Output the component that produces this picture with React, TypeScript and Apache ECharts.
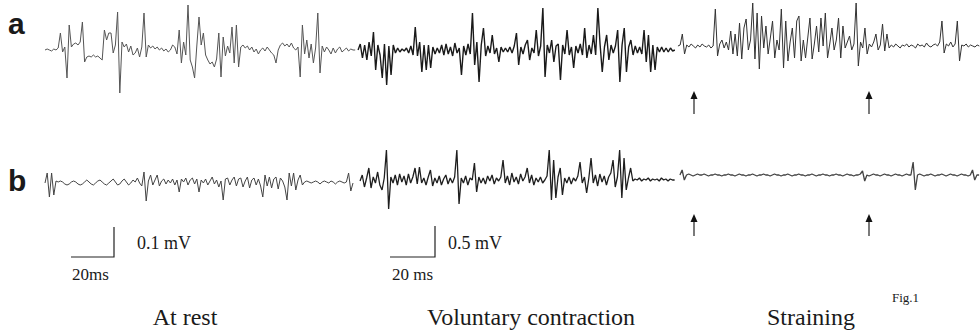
import React, { useEffect, useRef } from "react";
import * as echarts from "echarts";

// EMG traces, sampled every 1 ms; values are deflections in display units (a: upper trace, b: lower trace)
const SAMPLE_MS = 1;
const TOTAL_MS = 425;
const segStartA = [0, 142.3, 287.7];
const segStartB = [0, 143.2, 288.6];
const segLabels = ["At rest", "Voluntary contraction", "Straining"];

const restA = [0,1,0,-1,1,0,2,17,-2,3,
 -28,25,3,6,7,5,8,28,-12,-7,
 -6,-7,-5,-7,-6,-8,-10,20,10,17,
 17,-3,5,38,-43,8,3,6,-2,4,
 -5,-3,2,-7,3,37,-7,5,2,4,
 1,3,0,2,-1,1,-2,0,5,3,
 -4,20,-13,8,-5,45,-10,-17,-28,4,
 33,5,17,-5,-10,-14,-12,-17,-9,17,
 -27,13,-6,4,-3,23,-13,25,-17,3,
 5,2,4,0,3,-2,1,-4,0,2,
 -1,3,0,-3,-5,-13,0,5,7,4,
 6,3,7,2,0,3,-27,25,-4,10,
 -8,6,-13,2,37,-23,4,-2,3,0,
 -4,2,-3,1,3,-2,0,2,-1,1,
 0,0];

const volA = [0,6,-8,5,-10,8,-6,18,-20,5,
 -5,-28,6,-35,4,-25,5,-3,2,-2,
 1,-1,2,-3,4,-5,23,-6,8,-22,
 5,-20,5,-18,3,-4,2,-3,5,-5,
 6,-4,3,-6,7,-3,2,-25,4,-5,
 6,-4,37,-15,8,-32,5,22,-6,4,
 -3,15,-4,2,-12,3,-2,2,-2,3,
 -3,4,17,-15,3,-4,5,10,-10,2,
 -3,20,-6,4,42,-27,5,-3,10,-12,
 4,6,-30,5,-4,20,-5,3,-18,4,
 -3,6,-5,22,-8,5,-4,15,-5,42,
 6,-22,3,15,-10,5,-3,4,20,-32,
 5,22,-22,3,10,-5,4,-3,3,-4,
 20,-12,15,-22,5,-20,3,-2,3,-2,
 2,-2,2,-1,0];

const strA = [4,5,16,-4,
 5,3,6,4,2,5,3,6,4,3,5,2,4,
 41,-6,6,10,2,8,0,19,-4,16,
 -6,27,-9,22,31,0,10,47,-9,37,
 -19,34,2,24,-4,12,29,-8,10,0,
 41,-18,29,-11,8,22,-8,29,34,-11,
 10,-8,12,32,-9,6,24,-2,32,4,
 37,-8,6,22,0,10,32,-8,24,2,
 8,14,0,6,47,-16,8,2,22,-4,
 6,3,8,16,0,5,26,-1,16,2,
 5,3,6,4,2,5,4,6,3,5,4,2,6,4,5,3,7,4,3,5,6,4,8,
 29,-3,6,4,8,3,6,29,-11,5,
 4,6,3,5,4,3,5,4];

const restB = [0,10,-14,10,-12,2,
 1,2,1,-1,-2,-1,1,2,1,-1,
 -2,-1,1,3,1,-1,-2,0,2,3,
 1,-1,-2,0,2,4,1,-2,-1,2,
 4,1,-2,0,3,1,
 5,0,-3,11,-18,2,8,-2,3,8,
 -3,2,4,-1,3,0,4,-2,3,-9,
 4,1,5,-2,3,5,-1,4,-9,3,
 0,4,-2,2,6,-1,3,-4,2,-17,
 4,5,-2,3,6,-3,4,5,-4,2,
 6,-5,3,5,-2,4,-3,-14,8,-3,
 6,-5,4,6,-6,5,2,-4,-17,10,
 -3,10,-7,3,8,-2,
 1,2,1,0,1,2,1,-1,1,2,1,0,2,1,-1,1,2,1,0,1,
 10,-8,0];

const volB = [2,8,-4,5,15,-5,6,0,11,-2,
 -7,5,33,-26,6,0,8,-2,9,1,
 7,-2,9,0,6,15,-1,16,0,5,
 -2,6,13,-3,5,0,7,-2,4,8,
 -1,5,0,6,33,-21,5,0,7,-2,
 5,3,20,-9,6,0,5,-1,7,2,
 8,-1,5,2,6,23,0,7,-2,10,
 1,6,-1,9,2,6,15,0,8,-2,
 5,1,6,0,3,7,33,-17,23,-15,
 6,15,-12,5,0,6,-1,5,2,7,
 21,0,6,-10,5,25,0,8,-3,9,
 1,7,-2,6,10,23,-4,6,33,-15,
 25,-7,5,15,2,4,3,5,2,4,
 3,5,2,4,3,4,2,5,3,4,
 2,4,3,3];

const strB = [8,13,3,8,9,8,7,8,9,8,
 8,9,8,7,8,8,9,8,8,7,
 8,8,9,8,8,7,8,9,8,8,
 7,8,8,9,8,7,8,8,9,8,
 8,7,8,9,8,8,7,8,8,9,
 8,7,8,8,9,8,8,7,8,8,
 9,8,7,8,8,9,8,8,7,8,
 8,9,8,8,7,8,9,8,8,7,
 8,8,9,12,2,8,7,8,9,8,
 8,7,8,9,8,8,7,8,9,8,
 8,7,8,9,8,8,21,-7,8,9,
 8,7,8,8,9,8,7,8,8,9,
 8,7,8,9,8,8,7,8,9,8,
 8,7,8,13,3,8,8];

const scaleBars = [
  { amp: "0.1 mV", time: "20ms" },
  { amp: "0.5 mV", time: "20 ms" },
];

function pairs(values: number[], start: number) {
  return values.map((v, i) => [start + i * SAMPLE_MS, v]);
}

function seg(name: string, values: number[], start: number, idx: number, color: string, width: number) {
  return {
    type: "line",
    name,
    xAxisIndex: idx,
    yAxisIndex: idx,
    data: pairs(values, start),
    showSymbol: false,
    symbol: "none",
    lineStyle: { color, width },
    silent: true,
  };
}

function arrow(x: number, tip: number, tail: number) {
  return {
    type: "group",
    children: [
      { type: "line", shape: { x1: x, y1: tip + 6, x2: x, y2: tail }, style: { stroke: "#222", lineWidth: 1.2 } },
      { type: "polygon", shape: { points: [[x - 3.5, tip + 8], [x, tip], [x + 3.5, tip + 8]] }, style: { fill: "#111" } },
    ],
  };
}

export default function App() {
  const ref = useRef<HTMLDivElement>(null);
  useEffect(() => {
    document.body.style.margin = "0";
    const chart = echarts.init(ref.current!, null, { renderer: "svg" });
    const serif = "'Liberation Serif', 'DejaVu Serif', serif";
    const txt = (text: string, x: number, y: number, size: number, align = "left", weight = "normal", fam = serif) => ({
      type: "text",
      style: {
        text, x, y, fill: "#1a1a1a",
        font: `${weight} ${size}px ${fam}`,
        textAlign: align, textVerticalAlign: "middle",
      },
    });
    chart.setOption({
      animation: false,
      backgroundColor: "#fff",
      grid: [
        { left: 45, right: 0, top: 0, height: 100 },
        { left: 45, right: 0, top: 133, height: 100 },
      ],
      xAxis: [0, 1].map((g) => ({ type: "value", gridIndex: g, min: 0, max: TOTAL_MS, show: false })),
      yAxis: [0, 1].map((g) => ({ type: "value", gridIndex: g, min: -50, max: 50, show: false })),
      series: [
        seg("a " + segLabels[0], restA, segStartA[0], 0, "#555", 1),
        seg("a " + segLabels[1], volA, segStartA[1], 0, "#1a1a1a", 1.4),
        seg("a " + segLabels[2], strA, segStartA[2], 0, "#333", 1),
        seg("b " + segLabels[0], restB, segStartB[0], 1, "#444", 1),
        seg("b " + segLabels[1], volB, segStartB[1], 1, "#1e1e1e", 1.3),
        seg("b " + segLabels[2], strB, segStartB[2], 1, "#444", 1.3),
      ],
      graphic: [
        txt("a", 8, 23, 30, "left", "bold", "'Liberation Sans', Arial, sans-serif"),
        txt("b", 8, 180, 30, "left", "bold", "'Liberation Sans', Arial, sans-serif"),
        arrow(694, 91, 114),
        arrow(869, 91, 114),
        arrow(694, 214, 236),
        arrow(869, 214, 236),
        { type: "polyline", shape: { points: [[71, 257], [114, 257], [114, 227]] }, style: { stroke: "#222", lineWidth: 1.2, fill: null } },
        { type: "polyline", shape: { points: [[390, 257], [435, 257], [435, 226]] }, style: { stroke: "#222", lineWidth: 1.2, fill: null } },
        txt(scaleBars[0].amp, 137, 243, 18),
        txt(scaleBars[0].time, 72, 274, 17),
        txt(scaleBars[1].amp, 448, 243, 18),
        txt(scaleBars[1].time, 392, 274, 17),
        txt(segLabels[0], 185, 317, 24, "center"),
        txt(segLabels[1], 531, 317, 24, "center"),
        txt(segLabels[2], 811, 317, 24, "center"),
        txt("Fig.1", 892, 297, 13),
      ],
    });
    return () => chart.dispose();
  }, []);
  return <div ref={ref} style={{ width: 980, height: 333 }} />;
}
